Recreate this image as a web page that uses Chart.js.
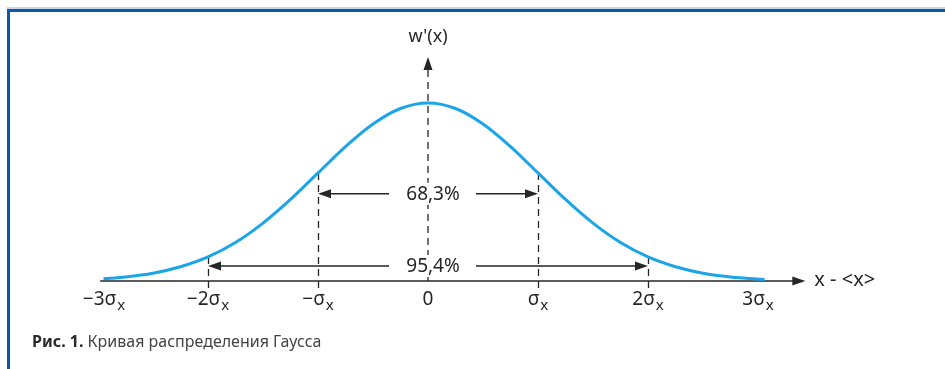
<!DOCTYPE html>
<html>
<head>
<meta charset="utf-8">
<script src="https://cdn.jsdelivr.net/npm/chart.js@4.4.1/dist/chart.umd.min.js"></script>
<style>
html, body { margin: 0; padding: 0; background: #fff; }
#wrap { position: relative; width: 945px; height: 369px; }
</style>
</head>
<body>
<div id="wrap"><canvas id="gaussChart"></canvas></div>
<script>
// Curve: x in sigma units, y relative to peak height
const curveX = [-2.95, -2.75, -2.5, -2.25, -2, -1.75, -1.5, -1.25, -1, -0.75, -0.5, -0.25, 0,
                0.25, 0.5, 0.75, 1, 1.25, 1.5, 1.75, 2, 2.25, 2.5, 2.75, 3.06];
const curveY = [0.013, 0.023, 0.044, 0.08, 0.135, 0.216, 0.325, 0.458, 0.607, 0.755, 0.882, 0.969, 1,
                0.969, 0.882, 0.755, 0.607, 0.458, 0.325, 0.216, 0.135, 0.08, 0.044, 0.023, 0.009];

// Tick labels under the axis
const tickValues = [-3, -2, -1, 0, 1, 2, 3];
const tickMain = ['\u22123\u03c3', '\u22122\u03c3', '\u2212\u03c3', '0', '\u03c3', '2\u03c3', '3\u03c3'];
const tickSub = ['x', 'x', 'x', '', 'x', 'x', 'x'];

// Dashed markers and interval arrows
const markX = [-2, -1, 1, 2];
const bandLabels = ['68,3%', '95,4%'];
const bandFrom = [-1, -2];
const bandTo = [1, 2];
const bandLevel = [0.49, 0.084];

// Axis extents
const xAxisFrom = -2.98;
const xAxisTo = 3.43;
const yAxisTo = 1.258;

const INK = '#262626';
const FONT = '"Noto Sans", "DejaVu Sans", sans-serif';

function heightAt(x) {
    const i = curveX.indexOf(x);
    return i >= 0 ? curveY[i] : 0;
}

function arrowHead(ctx, x, y, dir) {
    // dir: 'l', 'r', 'u'
    const L = 13, W = 4.5;
    ctx.beginPath();
    if (dir === 'r') { ctx.moveTo(x, y); ctx.lineTo(x - L, y - W); ctx.lineTo(x - L, y + W); }
    if (dir === 'l') { ctx.moveTo(x, y); ctx.lineTo(x + L, y - W); ctx.lineTo(x + L, y + W); }
    if (dir === 'u') { ctx.moveTo(x, y); ctx.lineTo(x - W, y + L); ctx.lineTo(x + W, y + L); }
    ctx.closePath();
    ctx.fill();
}

const figurePlugin = {
    id: 'figure',
    beforeDraw(chart) {
        const ctx = chart.ctx;
        ctx.save();
        // frame
        ctx.fillStyle = '#c6d6ec';
        ctx.fillRect(7, 7, chart.width, 2);
        ctx.fillStyle = '#0d58a8';
        ctx.fillRect(7, 9, chart.width, 3);
        ctx.fillRect(7, 9, 3, chart.height);
        ctx.restore();
    },
    beforeDatasetsDraw(chart) {
        const ctx = chart.ctx;
        const xs = chart.scales.x, ys = chart.scales.y;
        const y0 = ys.getPixelForValue(0);
        ctx.save();
        ctx.strokeStyle = INK;
        ctx.fillStyle = INK;

        // x axis
        ctx.lineWidth = 1.5;
        ctx.beginPath();
        ctx.moveTo(xs.getPixelForValue(xAxisFrom), y0);
        ctx.lineTo(xs.getPixelForValue(xAxisTo) - 10, y0);
        ctx.stroke();
        arrowHead(ctx, xs.getPixelForValue(xAxisTo), y0, 'r');

        // y axis (dashed)
        const xc = xs.getPixelForValue(0);
        const yTop = ys.getPixelForValue(yAxisTo);
        ctx.lineWidth = 1.3;
        ctx.setLineDash([7, 5]);
        ctx.beginPath();
        ctx.moveTo(xc, y0);
        ctx.lineTo(xc, yTop + 12);
        ctx.stroke();

        // sigma markers
        markX.forEach(m => {
            const px = Math.round(xs.getPixelForValue(m)) + 0.5;
            ctx.beginPath();
            ctx.moveTo(px, ys.getPixelForValue(heightAt(m)));
            ctx.lineTo(px, y0 + 8);
            ctx.stroke();
        });
        ctx.setLineDash([]);
        arrowHead(ctx, xc, yTop, 'u');

        // interval arrows, with a white gap for the label
        ctx.lineWidth = 1.4;
        const gapC = xc + 4.5, gapHalf = 43.5;
        bandLabels.forEach((lab, i) => {
            const py = ys.getPixelForValue(bandLevel[i]);
            const xl = xs.getPixelForValue(bandFrom[i]);
            const xr = xs.getPixelForValue(bandTo[i]);
            ctx.fillStyle = '#fff';
            ctx.fillRect(gapC - gapHalf + 6, py - 11, 2 * gapHalf - 12, 22);
            ctx.fillStyle = INK;
            ctx.beginPath();
            ctx.moveTo(gapC - gapHalf, py);
            ctx.lineTo(xl + 10, py);
            ctx.moveTo(gapC + gapHalf, py);
            ctx.lineTo(xr - 10, py);
            ctx.stroke();
            arrowHead(ctx, xl, py, 'l');
            arrowHead(ctx, xr, py, 'r');
        });
        ctx.restore();
    },
    afterDraw(chart) {
        const ctx = chart.ctx;
        const xs = chart.scales.x, ys = chart.scales.y;
        const y0 = ys.getPixelForValue(0);
        const xc = xs.getPixelForValue(0);
        ctx.save();
        ctx.fillStyle = INK;
        ctx.textBaseline = 'middle';

        // band labels
        ctx.font = '19px ' + FONT;
        ctx.textAlign = 'center';
        bandLabels.forEach((lab, i) => {
            ctx.fillText(lab, xc + 5, ys.getPixelForValue(bandLevel[i]) + 1);
        });

        // axis titles
        ctx.font = '18px ' + FONT;
        ctx.fillText("w'(x)", xc, ys.getPixelForValue(yAxisTo) - 20);
        ctx.textAlign = 'left';
        ctx.font = '20px ' + FONT;
        ctx.fillText('x - <x>', xs.getPixelForValue(xAxisTo) + 9, y0 - 1);

        // tick labels with subscript
        tickValues.forEach((v, i) => {
            const mainFont = '19px ' + FONT, subFont = '15px ' + FONT;
            ctx.font = mainFont;
            const wm = ctx.measureText(tickMain[i]).width;
            ctx.font = subFont;
            const wsub = tickSub[i] ? ctx.measureText(tickSub[i]).width + 1 : 0;
            const left = xs.getPixelForValue(v) - (wm + wsub) / 2 + (i === 0 ? 6 : 0);
            ctx.font = mainFont;
            ctx.textAlign = 'left';
            ctx.fillText(tickMain[i], left, y0 + 19);
            if (tickSub[i]) {
                ctx.font = subFont;
                ctx.fillText(tickSub[i], left + wm + 1, y0 + 25);
            }
        });

        // caption
        ctx.textBaseline = 'alphabetic';
        ctx.font = 'bold 16px ' + FONT;
        ctx.fillStyle = '#2a2a2a';
        const cap1 = '\u0420\u0438\u0441. 1.';
        ctx.fillText(cap1, 32, 347);
        const w1 = ctx.measureText(cap1).width;
        ctx.font = '16px ' + FONT;
        ctx.fillStyle = '#444';
        ctx.fillText(' \u041a\u0440\u0438\u0432\u0430\u044f \u0440\u0430\u0441\u043f\u0440\u0435\u0434\u0435\u043b\u0435\u043d\u0438\u044f \u0413\u0430\u0443\u0441\u0441\u0430', 32 + w1, 347);
        ctx.restore();
    }
};

new Chart(document.getElementById('gaussChart'), {
    type: 'line',
    data: {
        datasets: [{
            data: curveX.map((x, i) => ({ x: x, y: curveY[i] })),
            borderColor: '#1ba5e8',
            borderWidth: 3,
            pointRadius: 0,
            tension: 0.4,
            cubicInterpolationMode: 'monotone',
            fill: false,
            clip: false
        }]
    },
    options: {
        responsive: true,
        maintainAspectRatio: false,
        animation: false,
        events: [],
        layout: { padding: { left: 98, right: 187, top: 103, bottom: 88 } },
        plugins: { legend: { display: false }, tooltip: { enabled: false } },
        scales: {
            x: { type: 'linear', min: -3, max: 3, display: false },
            y: { min: 0, max: 1, display: false }
        }
    },
    plugins: [figurePlugin]
});
</script>
</body>
</html>
